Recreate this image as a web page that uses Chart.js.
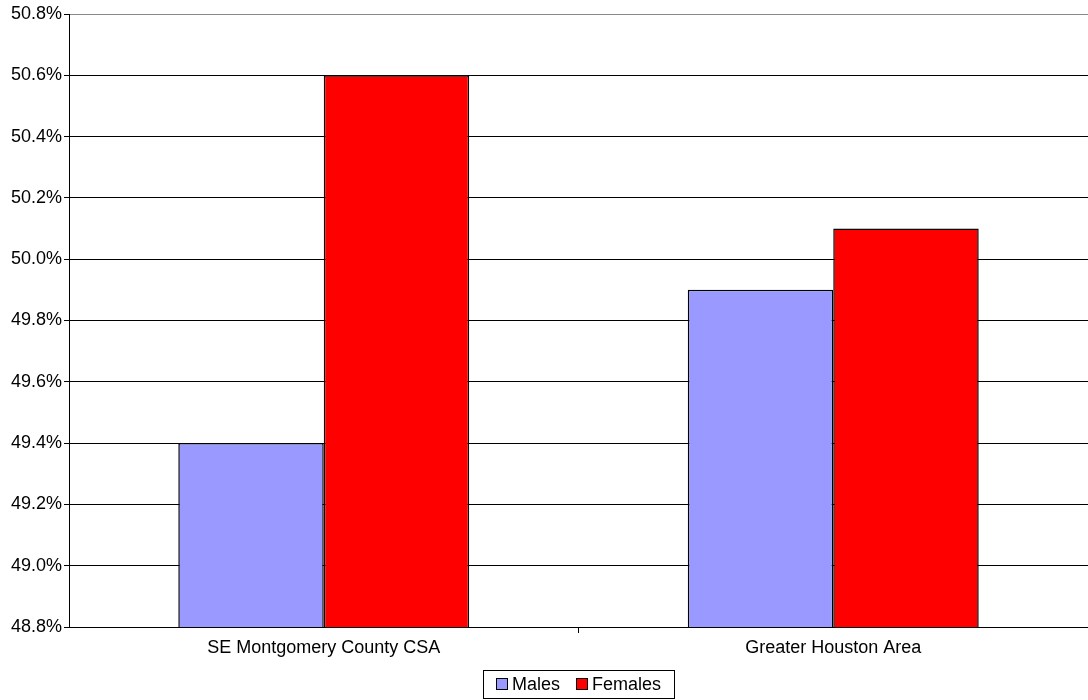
<!DOCTYPE html>
<html>
<head>
<meta charset="utf-8">
<script src="https://cdn.jsdelivr.net/npm/chart.js@4.4.0/dist/chart.umd.min.js"></script>
<style>
  html, body { margin: 0; padding: 0; background: #fff; }
  #wrap { width: 1088px; height: 700px; }
</style>
</head>
<body>
<div id="wrap"><canvas id="myChart"></canvas></div>
<script>
// waarden
const categories = ['SE Montgomery County CSA', 'Greater Houston Area'];
const malesValues = [49.4, 49.9];
const femalesValues = [50.6, 50.1];
const yMin = 48.8;
const yMax = 50.8;
const yStep = 0.2;

const FONT = '"Liberation Sans", Arial, sans-serif';

// eigen legenda met rand, gecentreerd onder het plotvlak
const boxedLegend = {
    id: 'boxedLegend',
    afterDraw(chart) {
        const ctx = chart.ctx;
        const area = chart.chartArea;
        const sets = chart.data.datasets;
        ctx.save();
        ctx.font = '18px ' + FONT;
        const box = 12, gapText = 4, gapItem = 16, padX = 13;
        let total = 0;
        sets.forEach((ds, i) => {
            total += box + gapText + ctx.measureText(ds.label).width;
            if (i < sets.length - 1) total += gapItem;
        });
        const w = total + padX * 2;
        const cx = (area.left + area.right) / 2;
        const left = Math.round(cx - w / 2);
        const top = 670, h = 28;
        const midY = top + h / 2;
        ctx.strokeStyle = '#000';
        ctx.lineWidth = 1;
        ctx.strokeRect(left + 0.5, top + 0.5, Math.round(w), h);
        let x = left + padX;
        ctx.textBaseline = 'middle';
        sets.forEach((ds) => {
            ctx.fillStyle = ds.backgroundColor;
            ctx.fillRect(x, midY - box / 2, box, box);
            ctx.strokeStyle = '#000';
            ctx.strokeRect(x + 0.5, midY - box / 2 + 0.5, box - 1, box - 1);
            x += box + gapText;
            ctx.fillStyle = '#000';
            ctx.fillText(ds.label, x, midY + 1);
            x += ctx.measureText(ds.label).width + gapItem;
        });
        ctx.restore();
    }
};

const renderChart = () => {
    const ctx = document.getElementById('myChart').getContext('2d');
    Chart.defaults.font.family = FONT;
    Chart.defaults.font.size = 18;
    Chart.defaults.color = '#000';

    new Chart(ctx, {
        type: 'bar',
        data: {
            labels: categories,
            datasets: [{
                label: 'Males',
                data: malesValues,
                backgroundColor: '#9999FF',
                borderColor: '#000',
                borderWidth: 1.5,
                borderSkipped: false
            }, {
                label: 'Females',
                data: femalesValues,
                backgroundColor: '#FF0000',
                borderColor: '#000',
                borderWidth: 1.5,
                borderSkipped: false
            }]
        },
        options: {
            responsive: true,
            maintainAspectRatio: false,
            animation: false,
            layout: { padding: { top: 14, right: -5, left: 0, bottom: 40 } },
            datasets: {
                bar: { categoryPercentage: 0.571, barPercentage: 1.0 }
            },
            plugins: {
                tooltip: { enabled: false },
                legend: { display: false }
            },
            scales: {
                x: {
                    afterFit: (s) => { s.height = 33; },
                    grid: {
                        offset: true,
                        drawOnChartArea: false,
                        tickLength: 6,
                        tickColor: (c) => c.index === 1 ? '#000' : 'rgba(0,0,0,0)',
                        color: '#000'
                    },
                    border: { color: '#000', width: 1 },
                    ticks: { padding: 4, font: { size: 18 } }
                },
                y: {
                    min: yMin,
                    max: yMax,
                    afterFit: (s) => { s.width = 69; },
                    grid: {
                        color: (c) => (c.tick && Math.abs(c.tick.value - yMax) < 1e-6) ? '#888' : '#000',
                        tickLength: 5,
                        tickColor: '#000'
                    },
                    border: { color: '#000', width: 1 },
                    ticks: {
                        stepSize: yStep,
                        padding: 2,
                        font: { size: 18 },
                        callback: (v) => v.toFixed(1) + '%'
                    }
                }
            }
        },
        plugins: [boxedLegend]
    });
};

document.addEventListener('DOMContentLoaded', renderChart);
</script>
</body>
</html>
